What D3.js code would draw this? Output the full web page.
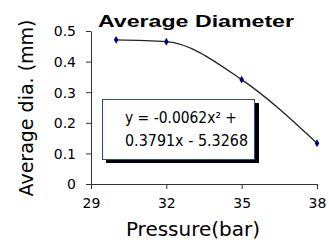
<!DOCTYPE html>
<html><head><meta charset="utf-8">
<script src="https://cdn.jsdelivr.net/npm/d3@7/dist/d3.min.js"></script>
<style>
html,body{margin:0;padding:0;background:#fff;}
svg{display:block;}
</style></head>
<body>
<script>
const pressure = [30, 32, 35, 38];
const avgDiameter = [0.471, 0.465, 0.341, 0.133];
const xTicks = [29, 32, 35, 38];
const yTicks = [0, 0.1, 0.2, 0.3, 0.4, 0.5];
const titleText = "Average Diameter";
const xTitle = "Pressure(bar)";
const yTitle = "Average dia. (mm)";
const eqLine1 = "y = -0.0062x² +";
const eqLine2 = "0.3791x - 5.3268";

const W = 329, H = 244;
const svg = d3.select("body").append("svg").attr("width", W).attr("height", H);
svg.append("rect").attr("width", W).attr("height", H).attr("fill", "#fff");

const x = d3.scaleLinear().domain([29, 38]).range([91, 317]);
const y = d3.scaleLinear().domain([0, 0.5]).range([184, 31]);

const axisColor = "#333";
const font = "'DejaVu Sans', sans-serif";

// title
svg.append("text").attr("x", 98).attr("y", 26.5)
  .attr("font-family", "Liberation Sans, Arial, sans-serif").attr("font-weight", "bold")
  .attr("font-size", 17).attr("textLength", 196).attr("lengthAdjust", "spacingAndGlyphs")
  .attr("fill", "#000").text(titleText);

// y axis
const ya = svg.append("g").attr("transform", "translate(91,0)")
  .call(d3.axisLeft(y).tickValues(yTicks).tickSize(5).tickSizeOuter(0).tickPadding(10)
    .tickFormat(d => d === 0 ? "0" : d3.format(".1f")(d)));
ya.select(".domain").attr("stroke", axisColor);
ya.selectAll(".tick line").attr("stroke", axisColor);
ya.selectAll(".tick text").attr("font-family", font).attr("font-size", 14).attr("fill", "#000").attr("dy", "0.35em");

// x axis
const xa = svg.append("g").attr("transform", "translate(0,184)")
  .call(d3.axisBottom(x).tickValues(xTicks).tickSize(5).tickSizeOuter(0).tickPadding(9));
xa.select(".domain").attr("stroke", axisColor);
xa.selectAll(".tick line").attr("stroke", axisColor);
xa.selectAll(".tick text").attr("font-family", font).attr("font-size", 14).attr("fill", "#000");

// axis titles
svg.append("text").attr("x", 193).attr("y", 236).attr("text-anchor", "middle")
  .attr("font-family", font).attr("font-size", 20).attr("fill", "#000").text(xTitle);
svg.append("text").attr("transform", "translate(33,108) rotate(-90)").attr("text-anchor", "middle")
  .attr("font-family", font).attr("font-size", 19).attr("fill", "#000").text(yTitle);

// line
const pts = pressure.map((p, i) => [p, avgDiameter[i]]);
svg.append("path").datum(pts)
  .attr("d", d3.line().x(d => x(d[0])).y(d => y(d[1])).curve(d3.curveMonotoneX))
  .attr("fill", "none").attr("stroke", "#222").attr("stroke-width", 1.3);

// markers
svg.selectAll(".mk").data(pts).enter().append("path")
  .attr("transform", d => `translate(${x(d[0])},${y(d[1])})`)
  .attr("d", d3.symbol(d3.symbolDiamond, 18)).attr("fill", "#000080");

// equation box
svg.append("rect").attr("x", 106).attr("y", 103).attr("width", 153).attr("height", 60).attr("fill", "#000");
svg.append("rect").attr("x", 102.5).attr("y", 99.5).attr("width", 152).attr("height", 60)
  .attr("fill", "#fff").attr("stroke", "#2a4a9a").attr("stroke-width", 1);
svg.append("text").attr("x", 125).attr("y", 122.5).attr("font-family", font).attr("font-size", 15)
  .attr("textLength", 112).attr("lengthAdjust", "spacingAndGlyphs").attr("fill", "#000").text(eqLine1);
svg.append("text").attr("x", 125).attr("y", 146).attr("font-family", font).attr("font-size", 15)
  .attr("textLength", 123).attr("lengthAdjust", "spacingAndGlyphs").attr("fill", "#000").text(eqLine2);
</script>
</body></html>
